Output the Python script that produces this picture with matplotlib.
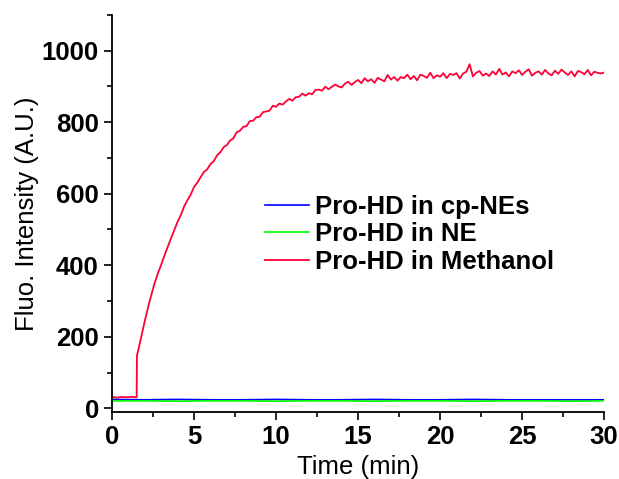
import numpy as np
import matplotlib
matplotlib.use('Agg')
import matplotlib.pyplot as plt
from matplotlib.ticker import MultipleLocator

plt.rcParams['font.family'] = ['Liberation Sans', 'DejaVu Sans']

# flat traces (cp-NEs and NE)
t_flat = [0, 2, 4, 6, 8, 10, 12, 14, 16, 18, 20, 22, 24, 26, 28, 30]
cp_nes = [25, 24, 25, 24, 24, 25, 24, 24, 25, 24, 24, 25, 24, 24, 24, 24]
ne = [21, 21, 20, 21, 21, 20, 21, 21, 20, 21, 21, 20, 21, 21, 20, 21]

# methanol trace
t_meoh = [0, 0.3, 0.6, 0.9, 1.2, 1.5, 1.52,
          1.6, 1.8, 2.0, 2.2, 2.4, 2.6, 2.8, 3.0, 3.2, 3.4, 3.6, 3.8,
          4.0, 4.2, 4.4, 4.6, 4.8, 5.0, 5.2, 5.4, 5.6, 5.8,
          6.0, 6.2, 6.4, 6.6, 6.8, 7.0, 7.2, 7.4, 7.6, 7.8,
          8.0, 8.2, 8.4, 8.6, 8.8, 9.0, 9.2, 9.4, 9.6, 9.8,
          10.0, 10.2, 10.4, 10.6, 10.8, 11.0, 11.2, 11.4, 11.6, 11.8,
          12.0, 12.2, 12.4, 12.6, 12.8, 13.0, 13.2, 13.4, 13.6, 13.8,
          14.0, 14.2, 14.4, 14.6, 14.8, 15.0, 15.2, 15.4, 15.6, 15.8,
          16.0, 16.2, 16.4, 16.6, 16.8, 17.0, 17.2, 17.4, 17.6, 17.8,
          18.0, 18.2, 18.4, 18.6, 18.8, 19.0, 19.2, 19.4, 19.6, 19.8,
          20.0, 20.2, 20.4, 20.6, 20.8, 21.0, 21.2, 21.4, 21.6, 21.8,
          22.0, 22.2, 22.4, 22.6, 22.8, 23.0, 23.2, 23.4, 23.6, 23.8,
          24.0, 24.2, 24.4, 24.6, 24.8, 25.0, 25.2, 25.4, 25.6, 25.8,
          26.0, 26.2, 26.4, 26.6, 26.8, 27.0, 27.2, 27.4, 27.6, 27.8,
          28.0, 28.2, 28.4, 28.6, 28.8, 29.0, 29.2, 29.4, 29.6, 29.8, 30.0]
methanol = [32, 30, 32, 31, 32, 31, 148,
            163, 204, 245, 283, 318, 351, 378, 402, 428, 452, 476, 499,
            522, 541, 565, 582, 598, 619, 631, 646, 661, 668,
            683, 691, 707, 716, 730, 736, 749, 755, 772, 776,
            787, 789, 803, 804, 814, 815, 828, 830, 832, 846,
            843, 852, 849, 858, 865, 860, 870, 871, 880, 874,
            881, 878, 890, 891, 888, 899, 892, 899, 905, 900,
            897, 908, 913, 904, 912, 918, 909, 923, 914, 920,
            910, 924, 919, 914, 932, 919, 926, 916, 926, 923,
            933, 920, 929, 917, 933, 929, 924, 938, 923, 931,
            927, 937, 923, 935, 932, 937, 922, 936, 941, 962,
            928, 938, 943, 930, 936, 929, 942, 933, 949, 933,
            939, 928, 942, 937, 945, 932, 941, 948, 930, 938,
            942, 933, 946, 936, 931, 944, 935, 947, 939, 932,
            942, 928, 943, 940, 934, 946, 931, 941, 938, 936, 939]

labels = ['Pro-HD in cp-NEs', 'Pro-HD in NE', 'Pro-HD in Methanol']
colors = ['#0000ff', '#00ff00', '#ff0037']

fig = plt.figure(figsize=(6.19, 4.79), dpi=100)
ax = fig.add_axes([0.181, 0.14, 0.795, 0.829])

ax.plot(t_flat, cp_nes, color=colors[0], lw=1.2, label=labels[0])
ax.plot(t_flat, ne, color=colors[1], lw=1.2, label=labels[1])
ax.plot(t_meoh, methanol, color=colors[2], lw=1.3, label=labels[2])

ax.set_xlim(0, 30)
ax.set_ylim(-10, 1100)
ax.xaxis.set_major_locator(MultipleLocator(5))
ax.xaxis.set_minor_locator(MultipleLocator(2.5))
ax.yaxis.set_major_locator(MultipleLocator(200))
ax.yaxis.set_minor_locator(MultipleLocator(100))

ax.spines['top'].set_visible(False)
ax.spines['right'].set_visible(False)
ax.spines['left'].set_linewidth(1.3)
ax.spines['bottom'].set_linewidth(1.3)
ax.tick_params(which='major', direction='out', length=6, width=1.2,
               labelsize=18.5, pad=3.5)
ax.tick_params(which='minor', direction='out', length=3.5, width=1.2)
for lab in ax.get_xticklabels() + ax.get_yticklabels():
    lab.set_fontweight('bold')

ax.set_xlabel('Time (min)', fontsize=18.5, labelpad=4)
ax.set_ylabel('Fluo. Intensity (A.U.)', fontsize=18.5, labelpad=2)

leg = ax.legend(loc='center left', bbox_to_anchor=(0.264, 0.447), frameon=False,
                prop={'size': 18.5, 'weight': 'bold'}, handlelength=1.7,
                handletextpad=0.25, labelspacing=0.15, borderpad=0.4)

fig.savefig('out.png', dpi=100)
